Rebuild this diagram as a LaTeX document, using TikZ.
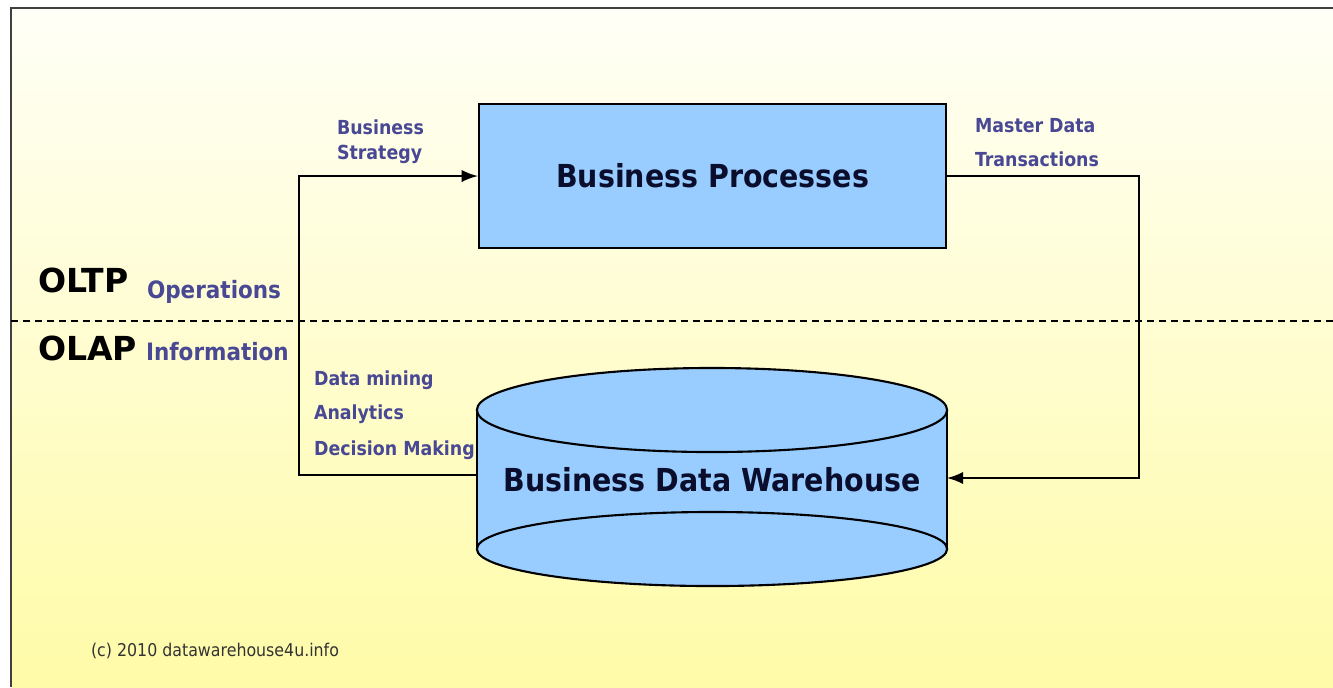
\documentclass[tikz,border=0pt]{standalone}
\usepackage{fontspec}
\setmainfont{DejaVu Sans Condensed}
\newfontfamily\widefont{DejaVu Sans}

\definecolor{boxblue}{RGB}{153,204,255}
\definecolor{labelblue}{RGB}{72,72,148}
\definecolor{titlenavy}{RGB}{10,14,44}
\definecolor{paperTop}{RGB}{255,255,247}
\definecolor{paperBottom}{RGB}{255,251,168}

\tikzset{
	flowlabel/.style = {anchor = base west, inner sep = 0pt, text = labelblue, font = \fontsize{5.5}{6}\selectfont\bfseries},
	layerlabel/.style = {anchor = base west, inner sep = 0pt, font = \widefont\fontsize{9.4}{10}\selectfont\bfseries},
	layersub/.style = {anchor = base west, inner sep = 0pt, text = labelblue, font = \fontsize{6.8}{8}\selectfont\bfseries},
	title/.style = {text = titlenavy, font = \fontsize{9.0}{11}\selectfont\bfseries}
}

\begin{document}
\begin{tikzpicture}[x = 0.01cm, y = -0.01cm, > = latex, line width = 0.6pt]

	% Page + frame
	
	\useasboundingbox (0, 0) rectangle (1333, 687);
	\shade [top color = paperTop, bottom color = paperBottom] (11, 8) rectangle (1333, 687);
	\draw [line width = 0.8pt, black!75] (1333, 8) -- (11, 8) -- (11, 687);
	
	% OLTP / OLAP split
	
	\draw [dash pattern = on 2pt off 1.4pt] (11, 321) -- (1333, 321);
	\node [layerlabel] (oltp) at (37, 292) {OLTP};
	\node [layersub] (ops) at (146, 298) {Operations};
	\node [layerlabel] (olap) at (37, 360) {OLAP};
	\node [layersub] (info) at (145, 360) {Information};
	
	% Business processes
	
	\node [draw, fill = boxblue, minimum width = 4.67cm, minimum height = 1.44cm, title] (proc) at (712.5, 176) {Business Processes};
	
	% Data warehouse cylinder
	
	\fill [boxblue] (477, 410) rectangle (947, 549);
	\draw [fill = boxblue] (712, 549) ellipse [x radius = 2.35cm, y radius = 0.37cm];
	\draw (477, 410) -- (477, 549) (947, 410) -- (947, 549);
	\draw [fill = boxblue] (712, 410) ellipse [x radius = 2.35cm, y radius = 0.42cm];
	\node [title] (dwh) at (712, 480) {Business Data Warehouse};
	\coordinate (dwhL) at (477, 475);
	\coordinate (dwhR) at (947, 478);
	
	% Flows
	
	\coordinate (loopL) at (299, 176);
	\coordinate (loopR) at (1139, 478);
	\draw [->] (dwhL) -| (loopL) -- (proc.west);
	\draw [->] (proc.east) -| (loopR) -- (dwhR);
	
	% Flow labels
	
	\node [flowlabel] (strat1) at (336, 134) {Business};
	\node [flowlabel] (strat2) at (336, 159) {Strategy};
	\node [flowlabel] (master) at (974, 132) {Master Data};
	\node [flowlabel] (trans) at (974, 166) {Transactions};
	
	\foreach \name/\txt/\y in {mining/Data mining/385, analytics/Analytics/419, decision/Decision Making/455}
		\node [flowlabel] (\name) at (313, \y) {\txt};
		
	% Footer
	
	\node [anchor = base west, inner sep = 0pt, text = black!80, font = \fontsize{5.0}{6}\selectfont] (copy) at (90, 656) {(c) 2010 datawarehouse4u.info};
	
\end{tikzpicture}
\end{document}
